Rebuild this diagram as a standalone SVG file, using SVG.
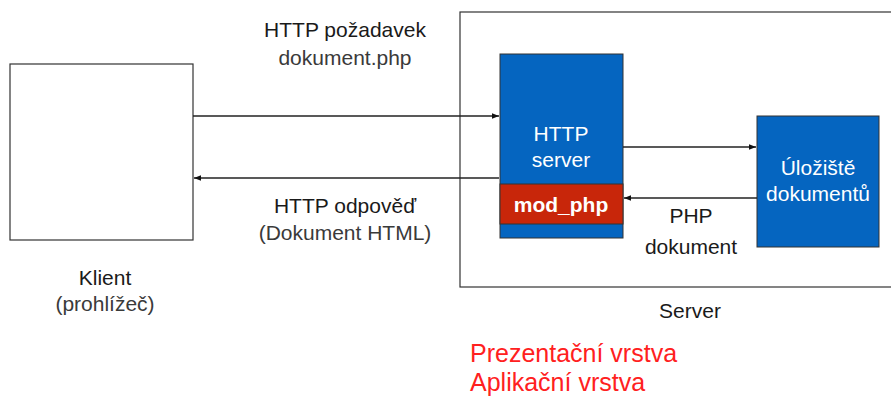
<svg xmlns="http://www.w3.org/2000/svg" width="891" height="396" viewBox="0 0 891 396">
<style>
text{font-family:"Liberation Sans",Arial,sans-serif;}
.lbl{font-size:21px;fill:#1a1a1a;text-anchor:middle;}
.sub{font-size:21px;fill:#3a3a3a;text-anchor:middle;}
.wt{font-size:21px;fill:#ffffff;text-anchor:middle;}
.red{font-size:25px;fill:#ff2020;}
.box{fill:#ffffff;stroke:#333333;stroke-width:1.2;}
.blue{fill:#0565c0;stroke:#333333;stroke-width:1;}
.conn{stroke:#222222;stroke-width:1.3;fill:none;marker-end:url(#ah);}
</style>
<defs>
<marker id="ah" viewBox="0 0 10 10" refX="10" refY="5" markerWidth="7" markerHeight="7" orient="auto" markerUnits="userSpaceOnUse">
<path d="M0,1 L10,5 L0,9 z" fill="#111111"/>
</marker>
</defs>
<g id="server">
<rect class="box" x="460" y="12" width="440" height="275"/>
<text class="lbl" x="690" y="318">Server</text>
</g>
<g id="klient">
<rect class="box" x="10" y="64" width="183" height="176"/>
<text class="lbl" x="105" y="285">Klient</text>
<text class="sub" x="105" y="311">(prohlížeč)</text>
</g>
<g id="http-server">
<rect class="blue" x="500" y="54" width="123" height="184"/>
<text class="wt" x="561" y="141">HTTP</text>
<text class="wt" x="561" y="167">server</text>
</g>
<g id="mod-php">
<rect x="500" y="184" width="123" height="40" fill="#c8260a" stroke="#333333" stroke-width="1"/>
<text class="wt" x="561" y="212" font-size="20" font-weight="bold">mod_php</text>
</g>
<g id="uloziste">
<rect class="blue" x="757" y="116" width="122" height="131"/>
<text class="wt" x="818" y="175">Úložiště</text>
<text class="wt" x="818" y="201">dokumentů</text>
</g>
<g id="connectors">
<line class="conn" x1="193" y1="116" x2="499" y2="116"/>
<line class="conn" x1="499" y1="178" x2="194" y2="178"/>
<line class="conn" x1="623" y1="147" x2="756" y2="147"/>
<line class="conn" x1="757" y1="198" x2="624" y2="198"/>
</g>
<g id="labels">
<text class="lbl" x="345" y="37">HTTP požadavek</text>
<text class="sub" x="345" y="65">dokument.php</text>
<text class="lbl" x="345" y="213">HTTP odpověď</text>
<text class="sub" x="345" y="240">(Dokument HTML)</text>
<text class="lbl" x="691" y="223">PHP</text>
<text class="lbl" x="691" y="254">dokument</text>
<text class="red" x="470" y="362">Prezentační vrstva</text>
<text class="red" x="470" y="391">Aplikační vrstva</text>
</g>
</svg>
